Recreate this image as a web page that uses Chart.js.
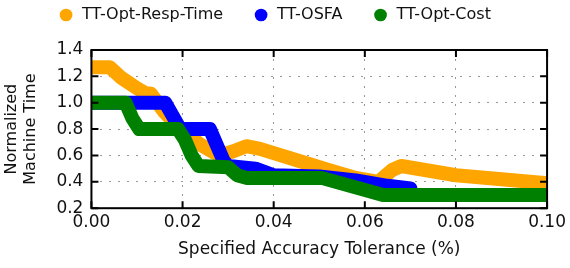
<!DOCTYPE html>
<html>
<head>
<meta charset="utf-8">
<script src="https://cdn.jsdelivr.net/npm/chart.js@4/dist/chart.umd.min.js"></script>
<style>
  html, body { margin: 0; padding: 0; background: #fff; }
  #wrap { width: 570px; height: 268px; }
</style>
</head>
<body>
<div id="wrap"><canvas id="myChart"></canvas></div>
<script>
// values
const respTimeX = [0, 0.004, 0.0065, 0.010, 0.012, 0.013, 0.016, 0.0195, 0.024, 0.028, 0.031, 0.034, 0.037, 0.052, 0.058, 0.063, 0.066, 0.068, 0.080, 0.090, 0.100];
const respTimeY = [1.27, 1.27, 1.19, 1.11, 1.07, 1.07, 0.93, 0.80, 0.68, 0.60, 0.63, 0.67, 0.65, 0.49, 0.43, 0.40, 0.49, 0.52, 0.45, 0.42, 0.39];

const osfaX = [0, 0.0162, 0.0195, 0.026, 0.029, 0.030, 0.036, 0.040, 0.050, 0.058, 0.065, 0.070];
const osfaY = [1.0, 1.0, 0.80, 0.80, 0.56, 0.52, 0.50, 0.45, 0.44, 0.41, 0.37, 0.35];

const costX = [0, 0.0075, 0.009, 0.0105, 0.019, 0.0205, 0.022, 0.0235, 0.030, 0.032, 0.034, 0.0505, 0.064, 0.100];
const costY = [1.0, 1.0, 0.88, 0.80, 0.80, 0.72, 0.60, 0.52, 0.51, 0.45, 0.43, 0.43, 0.30, 0.30];

const seriesNames = ['TT-Opt-Resp-Time', 'TT-OSFA', 'TT-Opt-Cost'];
const seriesColors = ['#ffa500', '#0000ff', '#008000'];

const xTicks = [0, 0.02, 0.04, 0.06, 0.08, 0.10];
const yTicks = [0.2, 0.4, 0.6, 0.8, 1.0, 1.2, 1.4];

const toPoints = (xs, ys) => xs.map((x, i) => ({ x: x, y: ys[i] }));

const makeSet = (i, xs, ys, order) => ({
  label: seriesNames[i],
  data: toPoints(xs, ys),
  borderColor: seriesColors[i],
  backgroundColor: seriesColors[i],
  borderWidth: 14,
  borderCapStyle: 'round',
  borderJoinStyle: 'round',
  pointRadius: 0,
  pointBorderWidth: 0,
  pointStyle: 'circle',
  tension: 0,
  fill: false,
  clip: 0,
  order: order
});

// frame and inward tick marks, like the original plot
const framePlugin = {
  id: 'frame',
  afterDatasetsDraw(chart) {
    const { ctx, chartArea: a, scales } = chart;
    ctx.save();
    ctx.strokeStyle = '#000';
    ctx.lineWidth = 2;
    ctx.beginPath();
    xTicks.forEach(v => {
      const px = scales.x.getPixelForValue(v);
      ctx.moveTo(px, a.bottom); ctx.lineTo(px, a.bottom - 7);
      ctx.moveTo(px, a.top); ctx.lineTo(px, a.top + 7);
    });
    yTicks.forEach(v => {
      const py = scales.y.getPixelForValue(v);
      ctx.moveTo(a.left, py); ctx.lineTo(a.left + 7, py);
      ctx.moveTo(a.right, py); ctx.lineTo(a.right - 7, py);
    });
    ctx.stroke();
    ctx.strokeRect(a.left, a.top, a.right - a.left, a.bottom - a.top);
    ctx.restore();
  }
};

// extra room under the legend
const legendGap = {
  id: 'legendGap',
  beforeInit(chart) {
    const fit = chart.legend.fit;
    chart.legend.fit = function () {
      fit.bind(chart.legend)();
      this.height += 17;
    };
  }
};

const ctx = document.getElementById('myChart').getContext('2d');
const chart = new Chart(ctx, {
  type: 'line',
  data: {
    datasets: [
      makeSet(0, respTimeX, respTimeY, 3),
      makeSet(1, osfaX, osfaY, 2),
      makeSet(2, costX, costY, 1)
    ]
  },
  options: {
    responsive: true,
    maintainAspectRatio: false,
    animation: false,
    layout: { padding: { top: -23, right: 21, left: 0, bottom: 0 } },
    plugins: {
      legend: {
        position: 'top',
        labels: {
          usePointStyle: true,
          boxHeight: 9,
          padding: 30,
          color: '#111',
          font: { family: 'DejaVu Sans', size: 16 },
          sort: (a, b) => a.datasetIndex - b.datasetIndex
        }
      },
      tooltip: { enabled: false }
    },
    scales: {
      x: {
        type: 'linear',
        min: 0,
        max: 0.1,
        afterBuildTicks: scale => { scale.ticks = xTicks.map(v => ({ value: v })); },
        ticks: {
          padding: 4,
          color: '#111',
          font: { family: 'DejaVu Sans', size: 17 },
          callback: v => v.toFixed(2)
        },
        grid: { color: 'rgba(0,0,0,0.4)', lineWidth: 1, drawTicks: false },
        border: { display: false, dash: [2, 7] },
        title: {
          display: true,
          text: 'Specified Accuracy Tolerance (%)',
          color: '#111',
          font: { family: 'DejaVu Sans', size: 17 },
          padding: { top: 3, bottom: 8 }
        }
      },
      y: {
        min: 0.2,
        max: 1.4,
        afterBuildTicks: scale => { scale.ticks = yTicks.map(v => ({ value: v })); },
        ticks: {
          padding: 8,
          color: '#111',
          font: { family: 'DejaVu Sans', size: 17 },
          callback: v => v.toFixed(1)
        },
        grid: { color: 'rgba(0,0,0,0.4)', lineWidth: 1, drawTicks: false },
        border: { display: false, dash: [2, 7] },
        title: {
          display: true,
          text: ['Normalized', 'Machine Time'],
          color: '#111',
          font: { family: 'DejaVu Sans', size: 16 },
          padding: { top: 2, bottom: 8 }
        }
      }
    }
  },
  plugins: [framePlugin, legendGap]
});
</script>
</body>
</html>
